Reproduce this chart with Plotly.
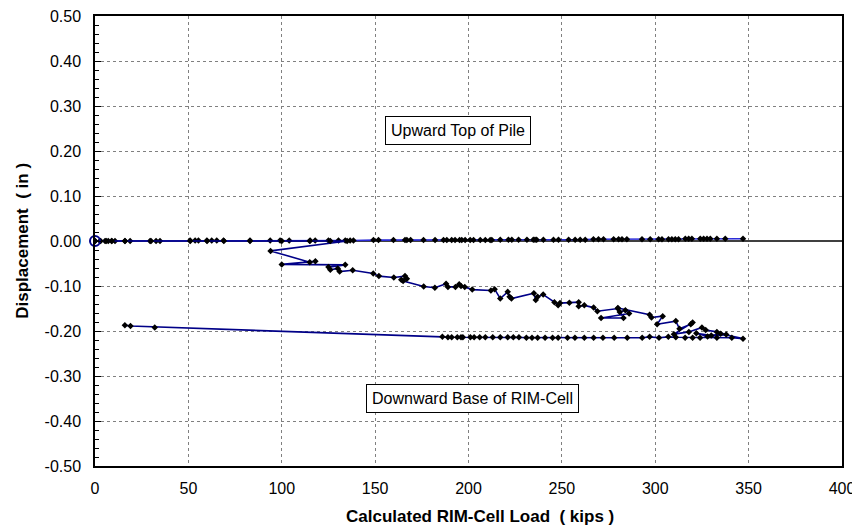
import plotly.graph_objects as go

# Upward Top of Pile
up_load = [0, 2.7, 5.4, 7.1, 8.9, 10.7, 16.1, 18.8, 29.5, 32.7, 34.8, 50.9, 53.6, 55.4, 59.9, 62.5,
           65.2, 68.8, 83.0, 93.8, 99.1, 104.0, 115.2, 117.9, 125.0, 130.4, 134.0, 136.6, 138.4, 149.1,
           151.8, 159.8, 166.0, 167.0, 169.0, 175.9, 182.1, 186.6, 188.4, 191.0, 192.8, 195.2, 196.4,
           198.2, 200.9, 202.7, 206.3, 209.0, 211.6, 212.5, 217.0, 221.4, 223.2, 226.8, 231.3, 234.7,
           235.6, 236.5, 240.1, 245.5, 248.2, 253.6, 257.1, 259.8, 262.5, 266.9, 269.6, 272.3, 277.7,
           280.4, 282.2, 284.8, 292.9, 297.3, 301.8, 303.6, 307.1, 308.9, 310.7, 312.5, 316.1, 317.9,
           319.6, 324.1, 325.9, 327.7, 329.5, 333.0, 337.5, 347.0]
up_disp = [0, 0, 0, 0, 0, 0, 0, 0, 0, 0, 0, 0.001, 0.001, 0.001, 0.001, 0.001,
           0.001, 0.001, 0.001, 0.001, 0.001, 0.001, 0.001, 0.001, 0.001, 0.001, 0.001, 0.001, 0.001, 0.002,
           0.002, 0.002, 0.002, 0.002, 0.002, 0.002, 0.002, 0.002, 0.002, 0.002, 0.002, 0.002, 0.002,
           0.002, 0.002, 0.002, 0.002, 0.002, 0.002, 0.002, 0.003, 0.003, 0.003, 0.003, 0.003, 0.003,
           0.003, 0.003, 0.003, 0.003, 0.003, 0.003, 0.003, 0.003, 0.003, 0.004, 0.004, 0.004, 0.004,
           0.004, 0.004, 0.004, 0.004, 0.004, 0.004, 0.004, 0.004, 0.004, 0.004, 0.004, 0.005, 0.005,
           0.005, 0.005, 0.005, 0.005, 0.005, 0.005, 0.005, 0.005]

# Downward Base of RIM-Cell
down_load = [0, 3, 6, 9, 16, 30, 51, 60, 69, 83, 100, 115, 126, 135,
             94, 115, 118, 100, 134, 125, 126, 130, 131, 138, 149, 152, 160, 166, 167, 164, 165,
             176, 182, 188, 189, 193, 195, 196, 198, 202, 212, 214,
             217, 221, 222, 223, 235, 236, 237, 240,
             246, 248, 249, 254, 259, 259, 262,
             267, 269, 280, 281, 284, 286, 271, 283, 280, 297, 298, 304,
             301, 311, 313, 319, 320, 310, 318, 325, 327, 333, 338, 328, 322, 330, 335, 347,
             341, 333, 324, 320, 316, 311, 307, 302, 297, 293, 285, 278, 272, 267, 262, 257,
             253, 248, 245, 241, 237, 234, 231, 227, 224, 221, 217, 213, 209, 206, 203, 201,
             197, 196, 194, 191, 189, 186, 32, 19, 16]
down_disp = [0, 0, 0, 0, 0, 0, 0, 0, 0, 0, 0, 0, 0, 0,
             -0.022, -0.047, -0.045, -0.052, -0.053, -0.058, -0.064, -0.061, -0.068, -0.065, -0.072, -0.078,
             -0.081, -0.078, -0.084, -0.086, -0.089,
             -0.101, -0.104, -0.095, -0.102, -0.102, -0.096, -0.100, -0.102, -0.108, -0.110, -0.107,
             -0.128, -0.113, -0.124, -0.128, -0.116, -0.131, -0.124, -0.119,
             -0.136, -0.143, -0.138, -0.137, -0.136, -0.145, -0.143,
             -0.148, -0.156, -0.150, -0.158, -0.154, -0.161, -0.171, -0.171, -0.149, -0.164, -0.170, -0.167,
             -0.185, -0.178, -0.195, -0.185, -0.181, -0.207, -0.202, -0.192, -0.198, -0.202, -0.208,
             -0.212, -0.205, -0.210, -0.206, -0.217,
             -0.215, -0.215, -0.215, -0.215, -0.215, -0.214, -0.213, -0.215, -0.213, -0.215, -0.215,
             -0.215, -0.215, -0.215, -0.215, -0.215, -0.215, -0.215, -0.215, -0.215, -0.215, -0.215,
             -0.215, -0.214, -0.214, -0.214, -0.214, -0.214, -0.214, -0.214, -0.214, -0.214,
             -0.214, -0.214, -0.214, -0.214, -0.214, -0.213, -0.192, -0.189, -0.187]

x_ticks = [0, 50, 100, 150, 200, 250, 300, 350, 400]
y_ticks = [0.5, 0.4, 0.3, 0.2, 0.1, 0.0, -0.1, -0.2, -0.3, -0.4, -0.5]

FONT = "Liberation Sans, Arial, sans-serif"

fig = go.Figure()
fig.add_trace(go.Scatter(
    x=up_load, y=up_disp, mode="lines+markers",
    line=dict(color="#2b2bd8", width=1.6),
    marker=dict(symbol="diamond", size=5, color="black"),
    showlegend=False))
fig.add_trace(go.Scatter(
    x=down_load, y=down_disp, mode="lines+markers",
    line=dict(color="#000088", width=1.6),
    marker=dict(symbol="diamond", size=5, color="black"),
    showlegend=False))
fig.add_trace(go.Scatter(
    x=[0], y=[0], mode="markers", cliponaxis=False,
    marker=dict(symbol="circle-open", size=10, color="#000088", line=dict(width=2)),
    showlegend=False))

fig.add_annotation(x=194.5, y=0.246, text="Upward Top of Pile", showarrow=False,
                   font=dict(family=FONT, size=16, color="black"),
                   bordercolor="black", borderwidth=1, bgcolor="white", borderpad=5)
fig.add_annotation(x=202, y=-0.35, text="Downward Base of RIM-Cell", showarrow=False,
                   font=dict(family=FONT, size=16, color="black"),
                   bordercolor="black", borderwidth=1, bgcolor="white", borderpad=5)

# axis titles
fig.add_annotation(xref="paper", yref="paper", x=0.515, y=-0.113, yanchor="middle",
                   text="<b>Calculated RIM-Cell Load\u00a0 ( kips )</b>", showarrow=False,
                   font=dict(family=FONT, size=17, color="black"))
fig.add_annotation(xref="paper", yref="paper", x=-0.098, y=0.5, textangle=-90,
                   xanchor="center", yanchor="middle",
                   text="<b>Displacement\u00a0 ( in )</b>", showarrow=False,
                   font=dict(family=FONT, size=17, color="black"))

# page body has an 8px margin: figure is sized so the plot lands where the reference's does
fig.update_layout(
    width=852, height=523,
    margin=dict(l=87, r=18, t=8, b=65, autoexpand=False),
    paper_bgcolor="white", plot_bgcolor="white",
    font=dict(family=FONT, size=16, color="black"),
    xaxis=dict(
        range=[0, 400], tickvals=x_ticks, ticktext=[str(v) for v in x_ticks],
        showgrid=True, gridcolor="#808080", griddash="dot", gridwidth=1,
        showline=True, linecolor="black", linewidth=1.5, mirror=True,
        zeroline=False, ticks="", tickfont=dict(size=16), automargin=False,
        ticklabelstandoff=7, ticklabeloverflow="allow",
    ),
    yaxis=dict(
        range=[-0.5, 0.5], tickvals=y_ticks, ticktext=["%.2f" % v for v in y_ticks],
        showgrid=True, gridcolor="#808080", griddash="dot", gridwidth=1,
        showline=True, linecolor="black", linewidth=1.5, mirror=True,
        zeroline=True, zerolinecolor="#404040", zerolinewidth=2,
        ticks="inside", ticklen=6, tickcolor="black", automargin=False,
        minor=dict(dtick=0.02, ticks="inside", ticklen=4, tickcolor="black", showgrid=False),
        tickfont=dict(size=16), ticklabelstandoff=9, ticklabeloverflow="allow",
    ),
)

fig.write_html("out.html")
